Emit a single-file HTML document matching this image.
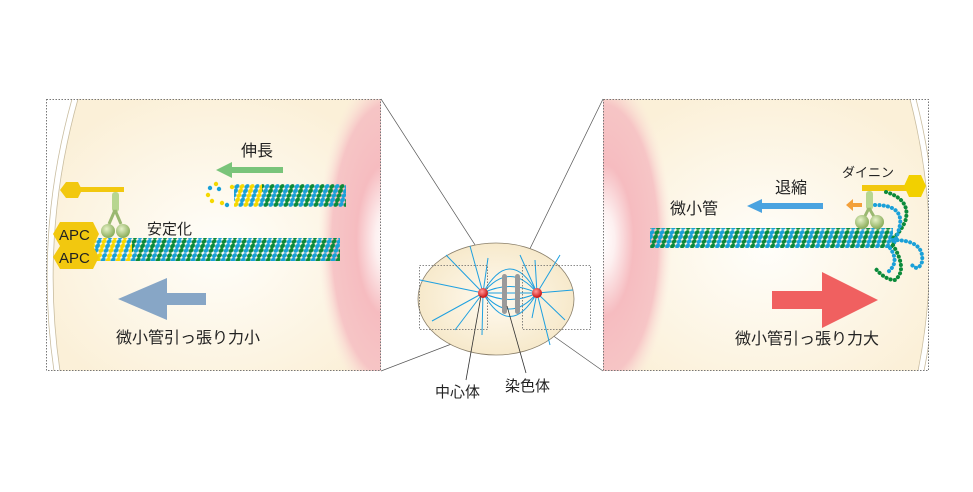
<!DOCTYPE html>
<html><head><meta charset="utf-8"><style>
html,body{margin:0;padding:0;background:#fff;}
svg{display:block;}
text{font-family:"Liberation Sans","Noto Sans CJK JP",sans-serif;fill:#222;}
</style></head><body>
<svg width="973" height="492" viewBox="0 0 973 492" xmlns="http://www.w3.org/2000/svg">
<defs>
<radialGradient id="cream" cx="0.5" cy="0.55" r="0.6">
<stop offset="0" stop-color="#fffefa"/><stop offset="1" stop-color="#fbf0d8"/>
</radialGradient>
<radialGradient id="pink" cx="0.5" cy="0.5" r="0.5">
<stop offset="0" stop-color="#fff" stop-opacity="1"/>
<stop offset="0.18" stop-color="#fdf0f0" stop-opacity="1"/>
<stop offset="0.45" stop-color="#f6bcc0" stop-opacity="1"/>
<stop offset="0.8" stop-color="#f6c0c3" stop-opacity="0.9"/>
<stop offset="1" stop-color="#fbe6dc" stop-opacity="0"/>
</radialGradient>
<radialGradient id="cellG" cx="0.5" cy="0.5" r="0.6">
<stop offset="0" stop-color="#fffaf0"/><stop offset="1" stop-color="#f5e6c4"/>
</radialGradient>
<radialGradient id="red" cx="0.4" cy="0.35" r="0.6">
<stop offset="0" stop-color="#ff9a9a"/><stop offset="1" stop-color="#d01818"/>
</radialGradient>
<radialGradient id="ball" cx="0.4" cy="0.35" r="0.6">
<stop offset="0" stop-color="#e6f2c8"/><stop offset="1" stop-color="#8fb060"/>
</radialGradient>
<pattern id="mt" width="10" height="23" patternUnits="userSpaceOnUse" patternTransform="skewX(-18)">
<g fill="#0b8a3a"><circle cx="2.5" cy="2.5" r="2.4"/><circle cx="2.5" cy="7" r="2.4"/><circle cx="2.5" cy="11.5" r="2.4"/><circle cx="2.5" cy="16" r="2.4"/><circle cx="2.5" cy="20.5" r="2.4"/></g>
<g fill="#1aa0d8"><circle cx="7.5" cy="2.5" r="2.4"/><circle cx="7.5" cy="7" r="2.4"/><circle cx="7.5" cy="11.5" r="2.4"/><circle cx="7.5" cy="16" r="2.4"/><circle cx="7.5" cy="20.5" r="2.4"/></g>
</pattern>
<pattern id="mty" width="10" height="23" patternUnits="userSpaceOnUse" patternTransform="skewX(-18)">
<g fill="#f5d800"><circle cx="2.5" cy="2.5" r="2.4"/><circle cx="2.5" cy="7" r="2.4"/><circle cx="2.5" cy="11.5" r="2.4"/><circle cx="2.5" cy="16" r="2.4"/><circle cx="2.5" cy="20.5" r="2.4"/></g>
<g fill="#1aa0d8"><circle cx="7.5" cy="2.5" r="2.4"/><circle cx="7.5" cy="7" r="2.4"/><circle cx="7.5" cy="11.5" r="2.4"/><circle cx="7.5" cy="16" r="2.4"/><circle cx="7.5" cy="20.5" r="2.4"/></g>
</pattern>
<clipPath id="cl"><rect x="46" y="99" width="335" height="272"/></clipPath>
<clipPath id="cr"><rect x="603" y="99" width="326" height="272"/></clipPath>
</defs>

<g stroke="#555" stroke-width="0.7" fill="none">
<line x1="381" y1="99" x2="488" y2="265"/>
<line x1="381" y1="371" x2="488" y2="330"/>
<line x1="603" y1="99" x2="522" y2="265"/>
<line x1="603" y1="371" x2="545" y2="330"/>
</g>

<g clip-path="url(#cl)">
<rect x="46" y="99" width="335" height="272" fill="#fff"/>
<path d="M78 99 Q40 235 60 371 L381 371 L381 99 Z" fill="url(#cream)"/>
<path d="M78 99 Q40 235 60 371" stroke="#c9bda0" stroke-width="0.8" fill="none"/>
<path d="M72 99 Q34 235 54 371" stroke="#c9bda0" stroke-width="0.8" fill="none"/>
<ellipse cx="388" cy="240" rx="70" ry="170" fill="url(#pink)"/>
</g>
<rect x="46.5" y="99.5" width="334" height="271" fill="none" stroke="#777" stroke-width="1" stroke-dasharray="1.5,1.5"/>

<g clip-path="url(#cr)">
<rect x="603" y="99" width="326" height="272" fill="#fff"/>
<path d="M603 99 L910 99 Q945 235 918 371 L603 371 Z" fill="url(#cream)"/>
<path d="M910 99 Q945 235 918 371" stroke="#c9bda0" stroke-width="0.8" fill="none"/>
<path d="M916 99 Q951 235 924 371" stroke="#c9bda0" stroke-width="0.8" fill="none"/>
<ellipse cx="602" cy="240" rx="70" ry="170" fill="url(#pink)"/>
</g>
<rect x="603.5" y="99.5" width="325" height="271" fill="none" stroke="#777" stroke-width="1" stroke-dasharray="1.5,1.5"/>

<text x="241" y="156" font-size="16">伸長</text>
<polygon points="216,170 232,162 232,167 283,167 283,173 232,173 232,178" fill="#79c47a"/>
<g>
<circle cx="210" cy="188" r="2.2" fill="#1aa0d8"/><circle cx="216" cy="184" r="2.2" fill="#f5d800"/>
<circle cx="219" cy="189" r="2.2" fill="#1aa0d8"/><circle cx="208" cy="195" r="2.2" fill="#f5d800"/>
<circle cx="212" cy="201" r="2.2" fill="#f5d800"/><circle cx="222" cy="203" r="2.2" fill="#f5d800"/>
<circle cx="227" cy="205" r="2.2" fill="#1aa0d8"/><circle cx="232" cy="187" r="2.2" fill="#f5d800"/>
</g>
<rect x="234" y="184" width="28" height="23" fill="url(#mty)"/>
<rect x="262" y="184" width="84" height="23" fill="url(#mt)"/>
<text x="147" y="234" font-size="15">安定化</text>
<rect x="92" y="238" width="40" height="23" fill="url(#mty)"/>
<rect x="132" y="238" width="208" height="23" fill="url(#mt)"/>
<polygon points="60,190 66,182 78,182 82,190 78,198 66,198" fill="#f2c80f"/>
<rect x="78" y="187" width="46" height="5" fill="#f2c80f"/>
<rect x="112" y="192" width="7" height="20" rx="3" fill="#b7d690"/>
<path d="M115 210 L109 224 M115 210 L121 224" stroke="#9ab870" stroke-width="3"/>
<circle cx="108" cy="231" r="7" fill="url(#ball)"/>
<circle cx="123" cy="231" r="7" fill="url(#ball)"/>
<polygon points="53,234 60,222 93,222 99,234 93,246 60,246" fill="#f2c80f"/>
<polygon points="53,257 60,246 93,246 99,257 93,269 60,269" fill="#f2c80f"/>
<text x="59" y="240" font-size="15" fill="#222">APC</text>
<text x="59" y="263" font-size="15" fill="#222">APC</text>
<polygon points="118,299 167,278 167,293 206,293 206,305 167,305 167,320" fill="#87a6c6"/>
<text x="116" y="343" font-size="16">微小管引っ張り力小</text>

<text x="775" y="193" font-size="16">退縮</text>
<polygon points="747,206 762,199 762,203 823,203 823,209 762,209 762,213" fill="#4aa3e0"/>
<text x="670" y="214" font-size="16">微小管</text>
<rect x="650" y="228" width="243" height="20" fill="url(#mt)"/>
<text x="842" y="177" font-size="13">ダイニン</text>
<rect x="862" y="185" width="50" height="6" fill="#f2c80f"/>
<polygon points="904,186 909,175 921,175 926,186 921,197 909,197" fill="#f2d000"/>
<polygon points="846,205 853,199 853,203 862,203 862,207 853,207 853,211" fill="#f3a03a"/>
<rect x="866" y="191" width="7" height="19" rx="3" fill="#b7d690"/>
<path d="M869 208 L863 220 M869 208 L876 220" stroke="#9ab870" stroke-width="3"/>
<circle cx="862" cy="222" r="7" fill="url(#ball)"/>
<circle cx="877" cy="222" r="7" fill="url(#ball)"/>
<g fill="none" stroke-width="4" stroke-dasharray="0.1,4.2" stroke-linecap="round">
<path d="M886 192 Q912 200 905 222 Q898 236 890 240" stroke="#0b8a3a"/>
<path d="M875 205 Q903 205 900 225 Q897 238 893 245" stroke="#1aa0d8"/>
<path d="M893 240 Q925 240 922 262 Q918 272 912 265" stroke="#1aa0d8"/>
<path d="M893 245 Q908 270 895 280 Q885 280 875 268" stroke="#0b8a3a"/>
<path d="M890 248 Q900 262 888 272" stroke="#1aa0d8"/>
</g>
<polygon points="772,291 822,291 822,272 878,300 822,328 822,309 772,309" fill="#f06060"/>
<text x="735" y="344" font-size="16">微小管引っ張り力大</text>

<ellipse cx="496" cy="299" rx="78" ry="56" fill="url(#cellG)" stroke="#8a7f6a" stroke-width="0.8"/>
<g stroke="#1ea0e0" stroke-width="1" fill="none">
<path d="M483 293 L420 280 M483 293 L432 321 M483 293 L446 255 M483 293 L470 246 M483 293 L455 330 M483 293 L482 335 M483 293 L488 258"/>
<path d="M537 293 L573 290 M537 293 L560 255 M537 293 L535 260 M537 293 L565 320 M537 293 L550 345 M537 293 L520 255 M537 293 L532 318"/>
<path d="M483 293 Q510 245 537 293 M483 293 Q510 260 537 293 M483 293 Q510 340 537 293 M483 293 Q510 325 537 293 M483 293 L537 293 M483 293 Q510 280 537 293 M483 293 Q510 306 537 293"/>
</g>
<rect x="502" y="274" width="5" height="40" rx="2.5" fill="#9a9a9a"/>
<rect x="515" y="274" width="5" height="40" rx="2.5" fill="#9a9a9a"/>
<circle cx="483" cy="293" r="5" fill="url(#red)"/>
<circle cx="537" cy="293" r="5" fill="url(#red)"/>
<rect x="419.5" y="265.5" width="68" height="64" fill="none" stroke="#666" stroke-width="0.8" stroke-dasharray="1.5,1.5"/>
<rect x="522.5" y="265.5" width="68" height="64" fill="none" stroke="#666" stroke-width="0.8" stroke-dasharray="1.5,1.5"/>
<line x1="481" y1="296" x2="466" y2="380" stroke="#333" stroke-width="0.8"/>
<line x1="507" y1="306" x2="526" y2="373" stroke="#333" stroke-width="0.8"/>
<text x="435" y="397" font-size="15">中心体</text>
<text x="505" y="391" font-size="15">染色体</text>
</svg>
</body></html>
